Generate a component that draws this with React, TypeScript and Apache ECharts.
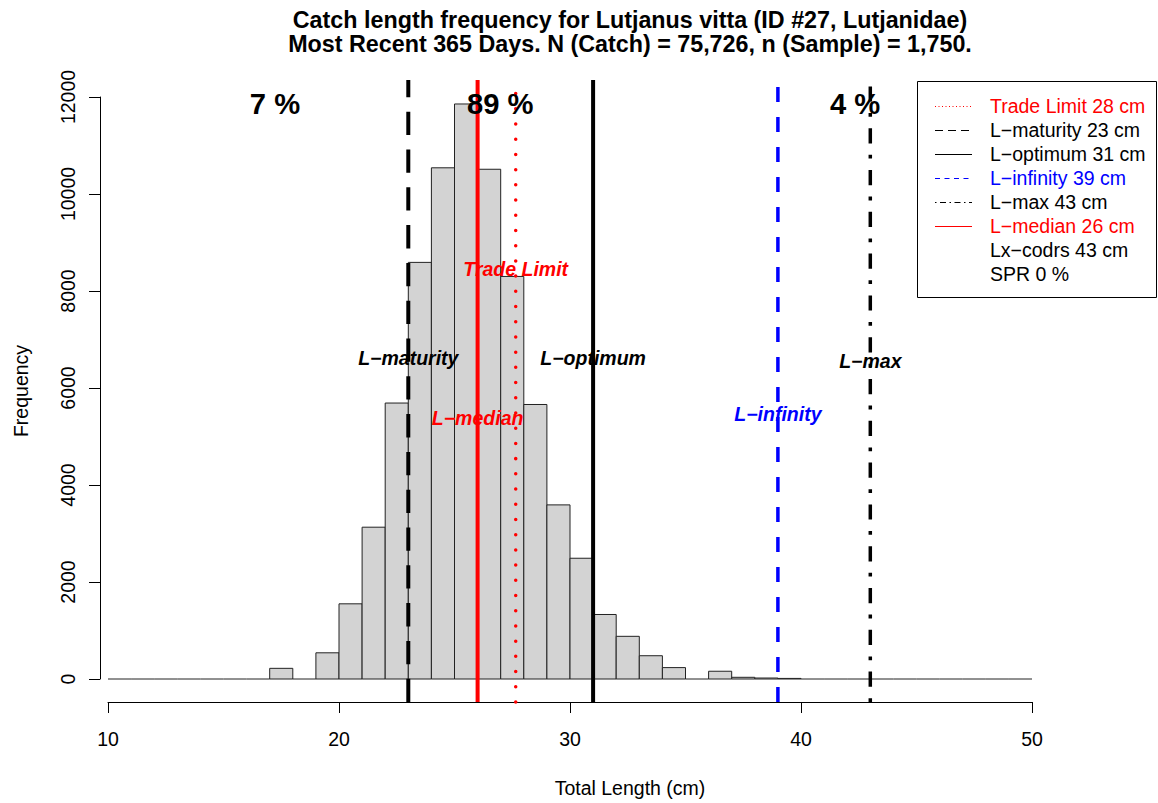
import React, { useEffect, useRef } from "react";
import * as echarts from "echarts";

// ---------------- data ----------------
const titleLines = [
  "Catch length frequency for Lutjanus vitta (ID #27, Lutjanidae)",
  "Most Recent 365 Days. N (Catch) = 75,726, n (Sample) = 1,750.",
];
const xAxisTitle = "Total Length (cm)";
const yAxisTitle = "Frequency";

const binStarts = [
  10, 11, 12, 13, 14, 15, 16, 17, 18, 19, 20, 21, 22, 23, 24, 25, 26, 27, 28, 29,
  30, 31, 32, 33, 34, 35, 36, 37, 38, 39, 40, 41, 42, 43, 44, 45, 46, 47, 48, 49,
];
const binCounts = [
  0, 0, 0, 0, 0, 0, 0, 220, 0, 540, 1550, 3130, 5690, 8590, 10540, 11856, 10510, 8300, 5660, 3590,
  2490, 1330, 880, 480, 235, 0, 160, 35, 20, 12, 0, 0, 0, 0, 0, 0, 0, 0, 0, 0,
];

const refNames = ["Trade Limit", "L\u2212maturity", "L\u2212optimum", "L\u2212infinity", "L\u2212max", "L\u2212median"];
const refLengths = [27.65, 23, 31, 39, 43, 26];
const refLegendCm = [28, 23, 31, 39, 43, 26];
const refLabelFreq = [8450, 6620, 6620, 5460, 6560, 5380];

const pctLabels = ["7 %", "89 %", "4 %"];
const pctLengths = [17.23, 26.98, 42.34];

const legendExtra = ["Lx\u2212codrs 43 cm", "SPR 0 %"];

// ---------------- styles ----------------
const FONT = "'Liberation Sans', Arial, Helvetica, sans-serif";
const refColors = ["#ff0000", "#000000", "#000000", "#0000ff", "#000000", "#ff0000"];
const refLineStyles: any[] = [
  { width: 3.5, dash: [0.01, 15.2], cap: "round" },
  { width: 4, dash: [23.3, 14.5], cap: "butt" },
  { width: 4, dash: null, cap: "butt" },
  { width: 3.5, dash: [15, 15], cap: "butt" },
  { width: 3.5, dash: [3.8, 11.4, 15.2, 11.4], cap: "butt" },
  { width: 4, dash: null, cap: "butt" },
];
const legendLineStyles: any[] = [
  { dash: [1, 2.5] },
  { dash: [8, 5] },
  { dash: null },
  { dash: [5, 4.5] },
  { dash: [1.5, 3.5, 6, 3.5] },
  { dash: null },
];
const Y_BOTTOM = -474;
const Y_TOP = 12351;

export default function App() {
  const ref = useRef<HTMLDivElement>(null);
  useEffect(() => {
    if (!ref.current) return;
    const chart = echarts.init(ref.current, undefined, { renderer: "svg" });
    const maxCount = Math.max(...binCounts);

    const legendX = 917.5;
    const legendY = 81.5;
    const rowH = 24;
    const legendChildren: any[] = [
      {
        type: "rect",
        shape: { x: legendX, y: legendY, width: 239, height: 216 },
        style: { fill: "#fff", stroke: "#000", lineWidth: 1 },
      },
    ];
    refNames.forEach((n, i) => {
      const y = 106 + rowH * i;
      legendChildren.push({
        type: "line",
        shape: { x1: 935, y1: y + 0.5, x2: 972, y2: y + 0.5 },
        style: { stroke: refColors[i], lineWidth: 1, lineDash: legendLineStyles[i].dash || undefined },
      });
      legendChildren.push({
        type: "text",
        x: 990,
        y,
        style: {
          text: `${n} ${refLegendCm[i]} cm`,
          fill: refColors[i],
          font: `19.5px ${FONT}`,
          align: "left",
          verticalAlign: "middle",
        },
      });
    });
    legendExtra.forEach((t, j) => {
      const y = 106 + rowH * (refNames.length + j);
      legendChildren.push({
        type: "text",
        x: 990,
        y,
        style: { text: t, fill: "#000", font: `19.5px ${FONT}`, align: "left", verticalAlign: "middle" },
      });
    });

    const option: any = {
      animation: false,
      backgroundColor: "#ffffff",
      grid: { left: 108, right: 126, top: 97, bottom: 124, containLabel: false },
      xAxis: {
        type: "value",
        min: 10,
        max: 50,
        interval: 10,
        offset: 23,
        axisLine: { show: true, onZero: false, lineStyle: { color: "#000", width: 1 } },
        axisTick: { show: true, length: 11, lineStyle: { color: "#000", width: 1 } },
        axisLabel: { fontSize: 19.5, color: "#000", fontFamily: FONT, margin: 27, formatter: (v: number) => String(v) },
        splitLine: { show: false },
      },
      yAxis: {
        type: "value",
        min: 0,
        max: 12000,
        interval: 2000,
        offset: 8,
        axisLine: { show: true, lineStyle: { color: "#000", width: 1 } },
        axisTick: { show: true, length: 11, lineStyle: { color: "#000", width: 1 } },
        axisLabel: {
          fontSize: 19.5,
          color: "#000",
          fontFamily: FONT,
          rotate: 90,
          margin: 22,
          formatter: (v: number) => String(v),
        },
        splitLine: { show: false },
      },
      series: [
        {
          type: "custom",
          clip: false,
          z: 2,
          data: binStarts.map((b, i) => [b, binCounts[i]]),
          encode: { x: 0, y: 1 },
          renderItem: (params: any, api: any) => {
            const x0 = api.value(0) as number;
            const c = api.value(1) as number;
            const p0 = api.coord([x0, 0]);
            const p1 = api.coord([x0 + 1, c]);
            if (c === 0) {
              return {
                type: "line",
                shape: { x1: p0[0], y1: p0[1], x2: p1[0], y2: p1[1] },
                style: { stroke: "#222", lineWidth: 1 },
              };
            }
            return {
              type: "rect",
              shape: { x: p0[0], y: p1[1], width: p1[0] - p0[0], height: p0[1] - p1[1] },
              style: { fill: "#d3d3d3", stroke: "#222", lineWidth: 1 },
            };
          },
        },
        {
          type: "custom",
          clip: false,
          z: 3,
          data: refLengths.map((v, i) => [v, refLabelFreq[i]]),
          encode: { x: 0, y: 1 },
          renderItem: (params: any, api: any) => {
            const i = params.dataIndex;
            const v = api.value(0) as number;
            const bot = api.coord([v, Y_BOTTOM]);
            const top = api.coord([v, Y_TOP]);
            const st = refLineStyles[i];
            return {
              type: "line",
              shape: { x1: bot[0], y1: bot[1], x2: top[0], y2: top[1] },
              style: {
                stroke: refColors[i],
                lineWidth: st.width,
                lineDash: st.dash || undefined,
                lineCap: st.cap,
              },
            };
          },
        },
        {
          type: "custom",
          clip: false,
          z: 4,
          data: refLengths.map((v, i) => [v, refLabelFreq[i]]),
          encode: { x: 0, y: 1 },
          renderItem: (params: any, api: any) => {
            const i = params.dataIndex;
            const p = api.coord([api.value(0), api.value(1)]);
            return {
              type: "text",
              x: p[0],
              y: p[1],
              style: {
                text: refNames[i],
                fill: refColors[i],
                font: `italic bold 19.5px ${FONT}`,
                align: "center",
                verticalAlign: "middle",
              },
            };
          },
        },
        {
          type: "custom",
          clip: false,
          z: 4,
          data: pctLengths.map((v) => [v, maxCount]),
          encode: { x: 0, y: 1 },
          renderItem: (params: any, api: any) => {
            const i = params.dataIndex;
            const p = api.coord([api.value(0), api.value(1)]);
            return {
              type: "text",
              x: p[0],
              y: p[1],
              style: {
                text: pctLabels[i],
                fill: "#000",
                font: `bold 29.2px ${FONT}`,
                align: "center",
                verticalAlign: "middle",
              },
            };
          },
        },
      ],
      graphic: [
        {
          type: "text",
          x: 630,
          y: 20,
          style: { text: titleLines[0], fill: "#000", font: `bold 23.3px ${FONT}`, align: "center", verticalAlign: "middle" },
        },
        {
          type: "text",
          x: 630,
          y: 44,
          style: { text: titleLines[1], fill: "#000", font: `bold 23.3px ${FONT}`, align: "center", verticalAlign: "middle" },
        },
        {
          type: "text",
          x: 630,
          y: 788,
          style: { text: xAxisTitle, fill: "#000", font: `19.5px ${FONT}`, align: "center", verticalAlign: "middle" },
        },
        {
          type: "text",
          x: 21,
          y: 391,
          rotation: Math.PI / 2,
          style: { text: yAxisTitle, fill: "#000", font: `19.5px ${FONT}`, align: "center", verticalAlign: "middle" },
        },
        { type: "group", children: legendChildren },
      ],
    };
    chart.setOption(option);
    return () => chart.dispose();
  }, []);
  return <div ref={ref} style={{ position: "absolute", left: 0, top: 0, width: 1158, height: 803 }} />;
}
